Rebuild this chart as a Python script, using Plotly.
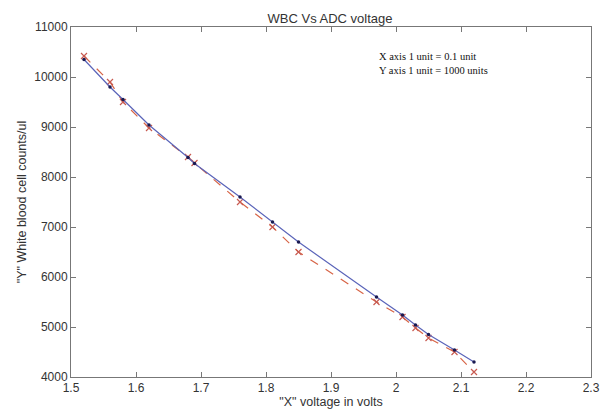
import plotly.graph_objects as go

voltage = [1.52, 1.56, 1.58, 1.62, 1.68, 1.69, 1.76, 1.81, 1.85, 1.97, 2.01, 2.03, 2.05, 2.09, 2.12]
wbc_fit = [10350, 9800, 9550, 9040, 8390, 8270, 7600, 7100, 6700, 5600, 5240, 5040, 4850, 4540, 4300]
wbc_measured = [10420, 9900, 9500, 8980, 8400, 8280, 7500, 7000, 6500, 5500, 5200, 4980, 4780, 4500, 4100]

x_ticks = [1.5, 1.6, 1.7, 1.8, 1.9, 2.0, 2.1, 2.2, 2.3]
x_tick_labels = ["1.5", "1.6", "1.7", "1.8", "1.9", "2", "2.1", "2.2", "2.3"]
y_ticks = [4000, 5000, 6000, 7000, 8000, 9000, 10000, 11000]
y_tick_labels = ["4000", "5000", "6000", "7000", "8000", "9000", "10000", "11000"]

sans = "Liberation Sans, Arial, sans-serif"

fig = go.Figure()
fig.add_trace(go.Scatter(
    x=voltage, y=wbc_measured, mode="lines+markers",
    line=dict(color="rgb(215,100,70)", width=1.2, dash="dash"),
    marker=dict(symbol="x-thin", size=6, line=dict(color="rgb(200,90,80)", width=1.2)),
    showlegend=False))
fig.add_trace(go.Scatter(
    x=voltage, y=wbc_fit, mode="lines+markers",
    line=dict(color="rgb(90,100,185)", width=1.2),
    marker=dict(symbol="circle", size=3.5, color="rgb(25,25,80)"),
    showlegend=False))

fig.add_annotation(x=1.971, y=10280, xref="x", yref="y", xanchor="left", yanchor="middle",
                   text="X axis 1 unit = 0.1 unit<br>Y axis 1 unit = 1000 units",
                   showarrow=False, align="left",
                   font=dict(family="Liberation Serif, Times New Roman, serif", size=10.5, color="#111"))

axis_common = dict(showline=True, linecolor="#777", linewidth=1, mirror="ticks",
                   ticks="inside", ticklen=5, tickcolor="#777", showgrid=False, zeroline=False,
                   tickfont=dict(family=sans, size=12, color="#333"))

fig.update_xaxes(range=[1.5, 2.3], tickvals=x_ticks, ticktext=x_tick_labels,
                 title=dict(text='"X" voltage in volts', standoff=6,
                            font=dict(family=sans, size=12.5, color="#333")),
                 automargin=False, **axis_common)
fig.update_yaxes(range=[4000, 11000], tickvals=y_ticks, ticktext=y_tick_labels,
                 title=dict(text='"Y" White blood cell counts/ul', standoff=4,
                            font=dict(family=sans, size=12.5, color="#333")),
                 automargin=False, **axis_common)

fig.update_layout(
    width=592, height=401,
    margin=dict(l=63, r=9, t=19, b=32),
    paper_bgcolor="white", plot_bgcolor="white",
    title=dict(text="WBC Vs ADC voltage", x=0.544, xanchor="center", y=0.975, yanchor="middle",
               font=dict(family=sans, size=13, color="#333")),
)

fig.write_html("out.html")
